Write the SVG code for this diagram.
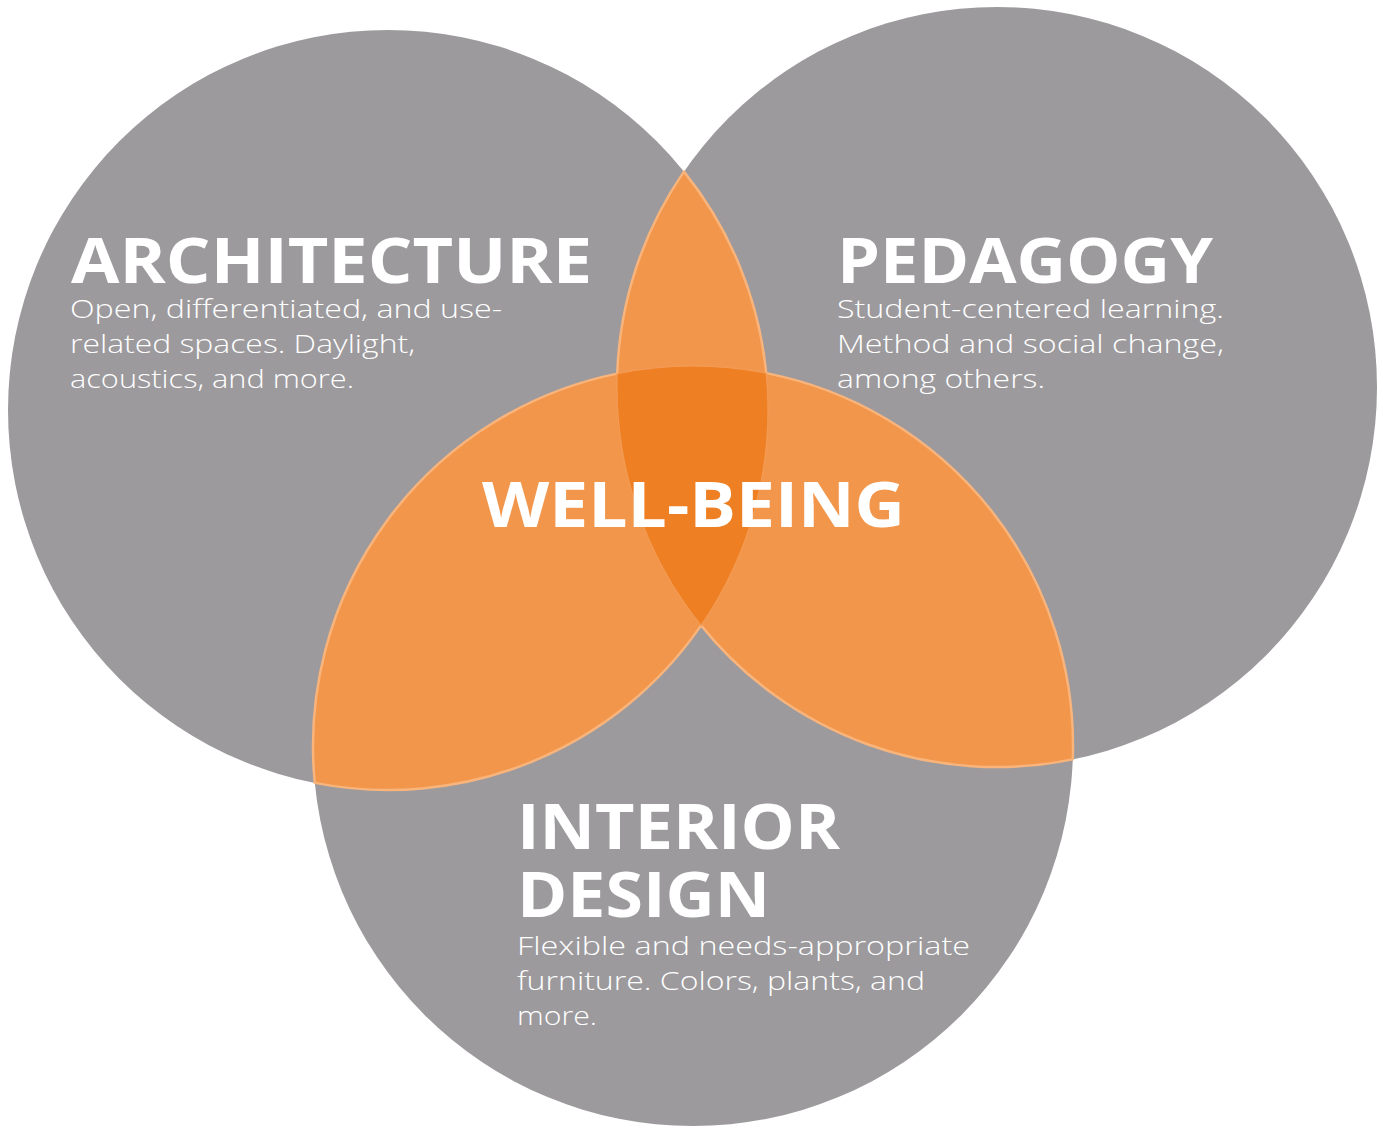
<svg xmlns="http://www.w3.org/2000/svg" width="1383" height="1128" viewBox="0 0 1383 1128">
<style>
.circle{fill:#9c9a9d}
.title{font-family:"Open Sans","Liberation Sans",sans-serif;font-weight:700;font-size:63px;fill:#ffffff}
.body{font-family:"Open Sans","Liberation Sans",sans-serif;font-weight:300;font-size:26px;fill:#ffffff}
.lens{fill:#f1964a;stroke:#f9b47c;stroke-width:2.5;stroke-linejoin:round}
.core{fill:#ee7f22;stroke:#f39b55;stroke-width:1.2}
</style>
<rect width="1383" height="1128" fill="#ffffff"/>
<g id="architecture">
<circle class="circle" cx="388" cy="410" r="380"/>
</g>
<g id="pedagogy">
<circle class="circle" cx="997" cy="387" r="380"/>
</g>
<g id="interior-design">
<circle class="circle" cx="693" cy="746" r="380"/>
</g>
<g id="well-being">
<path class="lens" d="M683.93,171.62 A380,380 0 0 1 766.21,373.12 A380,380 0 0 1 1072.77,759.37 A380,380 0 0 1 701.07,625.38 A380,380 0 0 1 314.79,782.88 A380,380 0 0 1 617.23,373.63 A380,380 0 0 1 683.93,171.62 Z"/>
<path class="core" d="M617.23,373.63 A380,380 0 0 1 766.21,373.12 A380,380 0 0 1 701.07,625.38 A380,380 0 0 1 617.23,373.63 Z"/>
<text class="title" x="482" y="527" font-size="64" textLength="423" lengthAdjust="spacingAndGlyphs">WELL-BEING</text>
</g>
<g id="architecture-text">
<text class="title" x="71" y="283" textLength="521" lengthAdjust="spacingAndGlyphs">ARCHITECTURE</text>
<text class="body" x="70" y="318" textLength="432" lengthAdjust="spacingAndGlyphs">Open, differentiated, and use-</text>
<text class="body" x="70" y="353" textLength="345" lengthAdjust="spacingAndGlyphs">related spaces. Daylight,</text>
<text class="body" x="70" y="388" textLength="284" lengthAdjust="spacingAndGlyphs">acoustics, and more.</text>
</g>
<g id="pedagogy-text">
<text class="title" x="837" y="283" textLength="376" lengthAdjust="spacingAndGlyphs">PEDAGOGY</text>
<text class="body" x="837" y="318" textLength="387" lengthAdjust="spacingAndGlyphs">Student-centered learning.</text>
<text class="body" x="837" y="353" textLength="387" lengthAdjust="spacingAndGlyphs">Method and social change,</text>
<text class="body" x="837" y="388" textLength="208" lengthAdjust="spacingAndGlyphs">among others.</text>
</g>
<g id="interior-design-text">
<text class="title" x="517" y="849" textLength="323" lengthAdjust="spacingAndGlyphs">INTERIOR</text>
<text class="title" x="517" y="917" textLength="253" lengthAdjust="spacingAndGlyphs">DESIGN</text>
<text class="body" x="517" y="955" textLength="453" lengthAdjust="spacingAndGlyphs">Flexible and needs-appropriate</text>
<text class="body" x="517" y="990" textLength="408" lengthAdjust="spacingAndGlyphs">furniture. Colors, plants, and</text>
<text class="body" x="517" y="1025" textLength="80" lengthAdjust="spacingAndGlyphs">more.</text>
</g>
<g id="connectors"></g>
</svg>
